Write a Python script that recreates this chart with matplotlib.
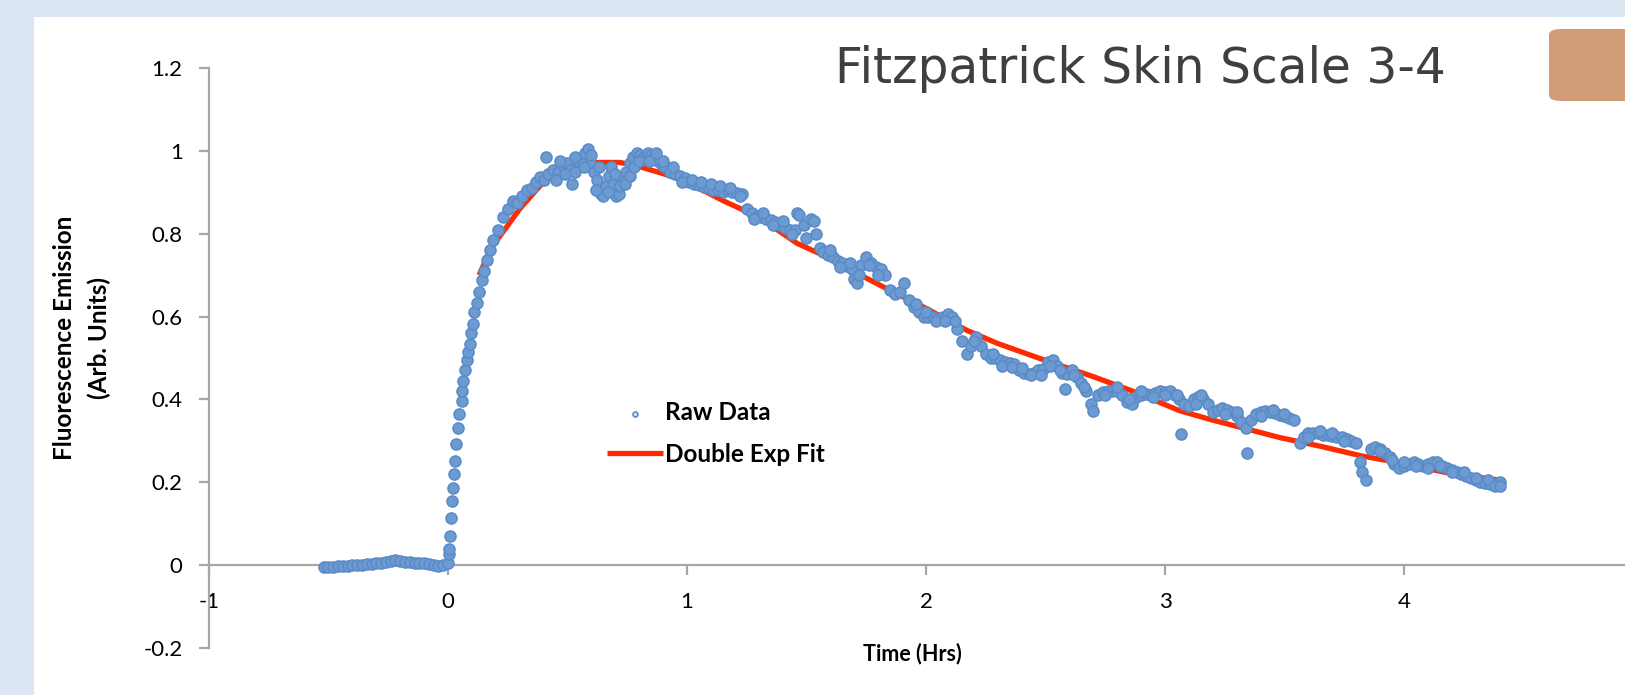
import matplotlib
matplotlib.use("Agg")
import matplotlib.pyplot as plt
from matplotlib.patches import Rectangle, FancyBboxPatch

# ---------------- data ----------------
base_t = [-0.52, -0.50, -0.48, -0.46, -0.44, -0.42, -0.40, -0.38, -0.36, -0.34, -0.32, -0.30,
          -0.28, -0.26, -0.24, -0.22, -0.20, -0.18, -0.16, -0.14, -0.12, -0.10, -0.08, -0.06,
          -0.04, -0.02, 0.0]
base_y = [-0.005, -0.005, -0.004, -0.003, -0.002, -0.002, 0.0, 0.001, 0.0, 0.002, 0.003, 0.004,
          0.006, 0.008, 0.010, 0.012, 0.009, 0.007, 0.008, 0.006, 0.005, 0.004, 0.003, 0.0,
          -0.003, 0.0, 0.005]

rise_t = [0.005, 0.006, 0.008, 0.012, 0.015, 0.022, 0.025, 0.031, 0.034, 0.040, 0.047, 0.057,
          0.060, 0.064, 0.070, 0.078, 0.085, 0.092, 0.098, 0.103, 0.110, 0.120, 0.130, 0.141,
          0.150, 0.162, 0.175, 0.190, 0.210, 0.230, 0.250, 0.270, 0.290, 0.310, 0.330, 0.350,
          0.370, 0.385, 0.400, 0.410, 0.420, 0.440, 0.460, 0.480, 0.500, 0.510, 0.520, 0.530,
          0.545, 0.560, 0.575, 0.585, 0.595, 0.610, 0.625, 0.640, 0.650, 0.660, 0.675, 0.690,
          0.705, 0.715, 0.730, 0.745, 0.760, 0.775, 0.790, 0.805, 0.820, 0.835, 0.850, 0.865,
          0.880, 0.895, 0.910, 0.930, 0.950, 0.970, 0.990, 1.010, 1.030, 1.050, 1.070, 1.090,
          1.110, 1.130, 1.150, 1.170, 1.190, 1.210, 1.230]
rise_y = [0.027, 0.040, 0.070, 0.114, 0.155, 0.187, 0.220, 0.252, 0.293, 0.330, 0.366, 0.397,
          0.420, 0.445, 0.470, 0.494, 0.515, 0.535, 0.560, 0.583, 0.610, 0.632, 0.660, 0.688,
          0.710, 0.736, 0.760, 0.784, 0.810, 0.840, 0.860, 0.880, 0.875, 0.890, 0.905, 0.910,
          0.925, 0.937, 0.930, 0.985, 0.945, 0.954, 0.950, 0.965, 0.970, 0.955, 0.920, 0.950,
          0.975, 0.980, 0.995, 1.005, 0.970, 0.950, 0.930, 0.895, 0.890, 0.915, 0.940, 0.920,
          0.890, 0.895, 0.930, 0.950, 0.970, 0.985, 0.995, 0.990, 0.985, 0.995, 0.990, 0.985,
          0.975, 0.965, 0.960, 0.950, 0.945, 0.940, 0.935, 0.925, 0.920, 0.918, 0.912, 0.910,
          0.905, 0.905, 0.900, 0.905, 0.900, 0.898, 0.895]

decay_t = [1.25, 1.27, 1.29, 1.31, 1.33, 1.35, 1.37, 1.39, 1.41, 1.43, 1.45, 1.46, 1.47, 1.49,
           1.50, 1.52, 1.53, 1.54, 1.555, 1.57, 1.59, 1.61, 1.63, 1.65, 1.67, 1.69, 1.70, 1.71,
           1.73, 1.75, 1.77, 1.79, 1.81, 1.83, 1.85, 1.87, 1.89, 1.91, 1.93, 1.95, 1.97, 1.99,
           2.01, 2.03, 2.05, 2.07, 2.09, 2.11, 2.13, 2.15, 2.17, 2.19, 2.21, 2.23, 2.25, 2.27,
           2.29, 2.31, 2.33, 2.35, 2.37, 2.39, 2.41, 2.43, 2.45, 2.47, 2.49, 2.51, 2.53, 2.55,
           2.57, 2.58, 2.59, 2.61, 2.63, 2.65, 2.67, 2.69, 2.70, 2.72, 2.74, 2.76, 2.78, 2.80,
           2.82, 2.84, 2.86, 2.88, 2.90, 2.92, 2.94, 2.96, 2.98, 3.00, 3.02, 3.04]
decay_y = [0.860, 0.850, 0.840, 0.840, 0.835, 0.832, 0.828, 0.820, 0.815, 0.810, 0.810, 0.850,
           0.845, 0.820, 0.790, 0.835, 0.830, 0.800, 0.765, 0.755, 0.748, 0.743, 0.735, 0.730,
           0.722, 0.715, 0.690, 0.680, 0.725, 0.743, 0.730, 0.720, 0.715, 0.700, 0.665, 0.655,
           0.660, 0.680, 0.640, 0.623, 0.610, 0.600, 0.598, 0.600, 0.595, 0.600, 0.607, 0.600,
           0.570, 0.540, 0.510, 0.530, 0.550, 0.530, 0.510, 0.500, 0.500, 0.495, 0.490, 0.488,
           0.485, 0.470, 0.465, 0.462, 0.465, 0.470, 0.474, 0.490, 0.494, 0.480, 0.465, 0.426,
           0.462, 0.470, 0.455, 0.440, 0.420, 0.390, 0.373, 0.410, 0.418, 0.420, 0.421, 0.420,
           0.410, 0.395, 0.390, 0.405, 0.410, 0.414, 0.410, 0.415, 0.420, 0.418, 0.421, 0.410]

tail_t = [3.06, 3.065, 3.08, 3.10, 3.12, 3.14, 3.16, 3.18, 3.20, 3.22, 3.24, 3.26, 3.28, 3.30,
          3.32, 3.34, 3.345, 3.36, 3.38, 3.40, 3.42, 3.44, 3.46, 3.48, 3.50, 3.52, 3.54, 3.565,
          3.58, 3.60, 3.62, 3.64, 3.66, 3.68, 3.70, 3.72, 3.74, 3.76, 3.78, 3.80, 3.815, 3.825,
          3.84, 3.86, 3.88, 3.90, 3.92, 3.94, 3.96, 3.98, 4.00, 4.02, 4.04, 4.06, 4.08, 4.10,
          4.12, 4.14, 4.16, 4.18, 4.20, 4.22, 4.24, 4.26, 4.28, 4.30, 4.32, 4.34, 4.36, 4.38, 4.40]
tail_y = [0.400, 0.317, 0.390, 0.385, 0.400, 0.405, 0.400, 0.390, 0.370, 0.375, 0.380, 0.375,
          0.370, 0.360, 0.345, 0.330, 0.270, 0.350, 0.365, 0.370, 0.372, 0.370, 0.368, 0.362,
          0.360, 0.355, 0.350, 0.295, 0.310, 0.318, 0.320, 0.318, 0.315, 0.315, 0.312, 0.310,
          0.310, 0.305, 0.300, 0.295, 0.250, 0.225, 0.205, 0.280, 0.285, 0.280, 0.270, 0.260,
          0.245, 0.235, 0.240, 0.245, 0.250, 0.245, 0.240, 0.245, 0.250, 0.248, 0.240, 0.235,
          0.230, 0.225, 0.220, 0.215, 0.210, 0.205, 0.200, 0.198, 0.195, 0.197, 0.200]

# second row of readings where the band is thick
extra_t = [0.45, 0.47, 0.49, 0.53, 0.57, 0.60, 0.62, 0.63, 0.67, 0.68, 0.70, 0.72, 0.74, 0.76,
           0.78, 0.80, 0.84, 0.87, 0.90, 0.94, 0.98, 1.02, 1.06, 1.10, 1.14, 1.18, 1.22, 1.28,
           1.32, 1.36, 1.40, 1.44, 1.60, 1.64, 1.68, 1.72, 1.76, 1.80, 1.96, 2.00, 2.04, 2.08,
           2.12, 2.20, 2.28, 2.32, 2.36, 2.40, 2.44, 2.48, 2.52, 2.56, 2.62, 2.66, 2.75, 2.80,
           2.85, 2.90, 2.95, 3.00, 3.05, 3.13, 3.15, 3.25, 3.30, 3.40, 3.45, 3.50, 3.60, 3.65,
           3.70, 3.75, 3.90, 3.95, 4.00, 4.05, 4.10, 4.15, 4.20, 4.25, 4.30, 4.35, 4.38, 4.40]
extra_y = [0.930, 0.975, 0.945, 0.985, 0.960, 0.990, 0.905, 0.960, 0.900, 0.960, 0.945, 0.915,
           0.920, 0.940, 0.960, 0.975, 0.975, 0.995, 0.975, 0.960, 0.925, 0.930, 0.925, 0.920,
           0.915, 0.910, 0.890, 0.835, 0.850, 0.820, 0.830, 0.800, 0.760, 0.720, 0.730, 0.700,
           0.725, 0.700, 0.630, 0.610, 0.590, 0.590, 0.590, 0.540, 0.510, 0.480, 0.478, 0.475,
           0.458, 0.460, 0.480, 0.470, 0.460, 0.430, 0.410, 0.430, 0.400, 0.420, 0.405, 0.410,
           0.410, 0.390, 0.410, 0.365, 0.370, 0.360, 0.375, 0.365, 0.310, 0.325, 0.320, 0.300,
           0.275, 0.255, 0.250, 0.240, 0.235, 0.240, 0.225, 0.225, 0.210, 0.205, 0.190, 0.190]

fit_t = [0.13, 0.18, 0.245, 0.30, 0.40, 0.50, 0.57, 0.72, 0.80, 0.90, 1.00, 1.15, 1.30, 1.46,
         1.60, 1.71, 1.85, 2.00, 2.17, 2.30, 2.50, 2.70, 2.86, 3.06, 3.20, 3.48, 3.65, 3.82,
         4.00, 4.18, 4.40]
fit_y = [0.700, 0.765, 0.816, 0.860, 0.925, 0.958, 0.972, 0.972, 0.962, 0.945, 0.925, 0.880,
         0.840, 0.777, 0.740, 0.705, 0.663, 0.620, 0.567, 0.535, 0.494, 0.455, 0.421, 0.373,
         0.350, 0.308, 0.287, 0.264, 0.245, 0.223, 0.205]

raw_t = base_t + rise_t + decay_t + tail_t + extra_t
raw_y = base_y + rise_y + decay_y + tail_y + extra_y

x_ticks = [-1, 0, 1, 2, 3, 4]
y_ticks = [-0.2, 0, 0.2, 0.4, 0.6, 0.8, 1, 1.2]

# ---------------- figure ----------------
W, H = 1625, 695
fig = plt.figure(figsize=(W / 100, H / 100), dpi=100)
fig.patch.set_facecolor("#dce6f2")
fig.patches.append(Rectangle((34 / W, 0), 1, 1 - 17 / H, transform=fig.transFigure,
                             facecolor="white", edgecolor="none", zorder=-2))
fig.patches.append(FancyBboxPatch((1549 / W, 1 - 101 / H), 0.2, 72 / H,
                                  boxstyle="round,pad=0,rounding_size=0.008",
                                  transform=fig.transFigure, facecolor="#d39c79",
                                  edgecolor="none", zorder=-1))

# axes: x from -1 to 5 (cut off by the right edge), y from -0.2 to 1.2
x0px, unit_x = 448, 239
left = (x0px - unit_x) / W
ax = fig.add_axes([left, 47 / H, 6 * unit_x / W, 580 / H])
ax.set_facecolor("none")
ax.set_zorder(2)

fit_line, = ax.plot(fit_t, fit_y, color="#ff2a00", lw=3.8, zorder=2, solid_capstyle="butt")
sc = ax.scatter(raw_t, raw_y, s=62, facecolor="#6e9ad2", edgecolor="#5a8cc8",
                linewidths=1.2, zorder=3)

ax.set_xlim(-1, 5)
ax.set_ylim(-0.2, 1.2)

spine_col = "#a6a6a6"
for s in ["top", "right"]:
    ax.spines[s].set_visible(False)
ax.spines["bottom"].set_position(("data", 0))
ax.spines["bottom"].set_color(spine_col)
ax.spines["left"].set_color(spine_col)
ax.spines["bottom"].set_linewidth(1.6)
ax.spines["left"].set_linewidth(1.6)

tick_font = "Lato"
ax.set_xticks(x_ticks)
ax.set_xticklabels([str(v) for v in x_ticks])
ax.set_yticks(y_ticks)
ax.set_yticklabels(["-0.2", "0", "0.2", "0.4", "0.6", "0.8", "1", "1.2"])
ax.tick_params(axis="x", direction="out", length=7, width=1.6, color=spine_col,
               pad=12, labelsize=16, labelcolor="black")
ax.tick_params(axis="y", direction="out", length=7, width=1.6, color=spine_col,
               pad=12, labelsize=16, labelcolor="black")
for lab in ax.get_xticklabels() + ax.get_yticklabels():
    lab.set_fontfamily(tick_font)

fig.text(82 / W, 1 - 338 / H, "Fluorescence Emission\n(Arb. Units)", rotation=90,
         ha="center", va="center", fontsize=17.5, fontweight="bold", family="Lato",
         linespacing=1.55)
fig.text(912 / W, 1 - 654 / H, "Time (Hrs)", ha="center", va="center",
         fontsize=15.5, fontweight="bold", family="Lato")

fig.text(835 / W, 1 - 83 / H, "Fitzpatrick Skin Scale 3-4", ha="left", va="baseline",
         fontsize=35, color="#3f3f3f", family="DejaVu Sans")

leg = ax.legend([sc, fit_line], ["Raw Data", "Double Exp Fit"], loc="upper left",
                bbox_to_anchor=(607 / W, 1 - 401 / H), bbox_transform=fig.transFigure,
                frameon=False, borderpad=0, borderaxespad=0, handlelength=2.3,
                handletextpad=0.08, labelspacing=0.78, markerscale=0.45,
                prop={"family": "Lato", "weight": "bold", "size": 17.5})
leg.legend_handles[0].set_facecolor("#dbe6f4")

fig.savefig("out.png", dpi=100, facecolor=fig.get_facecolor())
